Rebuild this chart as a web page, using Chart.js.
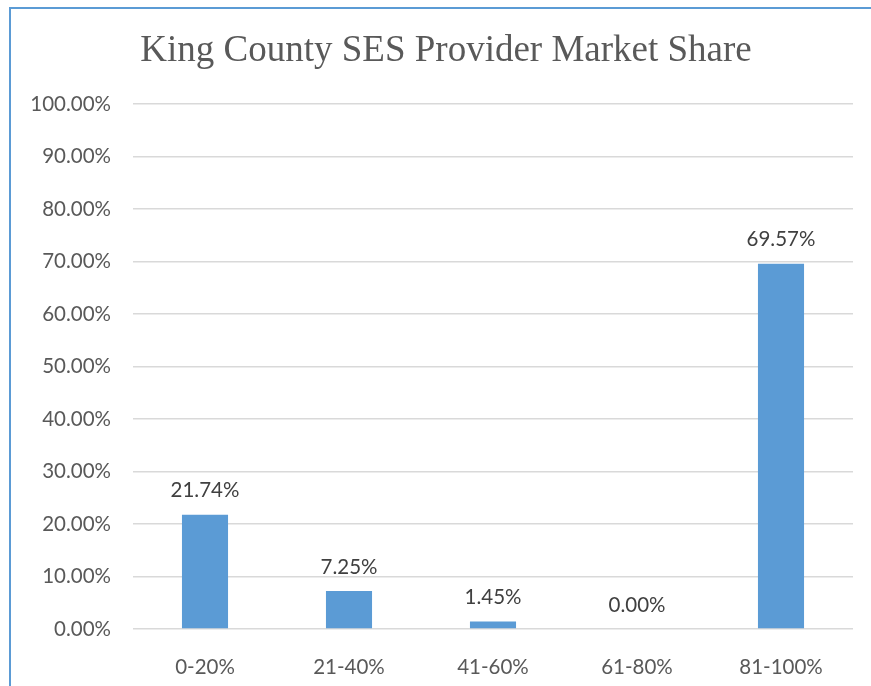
<!DOCTYPE html>
<html>
<head>
<meta charset="utf-8">
<script src="https://cdn.jsdelivr.net/npm/chart.js@4/dist/chart.umd.min.js"></script>
<style>
  html, body { margin: 0; padding: 0; background: #fff; }
  #wrap { position: relative; width: 871px; height: 686px; }
  #frame { position: absolute; left: 9px; top: 7px; right: -2px; bottom: -2px;
    border-left: 2px solid #5b9bd5; border-top: 2px solid #5b9bd5; }
  canvas { position: absolute; left: 0; top: 0; }
</style>
</head>
<body>
<div id="wrap">
  <div id="frame"></div>
  <canvas id="chart" width="871" height="686"></canvas>
</div>
<script>
const chartTitle = 'King County SES Provider Market Share'
const categories = ['0-20%', '21-40%', '41-60%', '61-80%', '81-100%']
const shares = [21.74, 7.25, 1.45, 0.00, 69.57]

const textGrey = '#595959'
const tickFont = { family: 'Lato, "Liberation Sans", sans-serif', size: 20.5 }

const pct = v => Number(v).toFixed(2) + '%'

// bar value labels, drawn just above each bar
const valueLabels = {
  id: 'valueLabels',
  afterDatasetsDraw(chart) {
    const ctx = chart.ctx
    const meta = chart.getDatasetMeta(0)
    ctx.save()
    ctx.fillStyle = '#404040'
    ctx.font = `${tickFont.size}px ${tickFont.family}`
    ctx.textAlign = 'center'
    ctx.textBaseline = 'middle'
    meta.data.forEach((bar, i) => {
      ctx.fillText(pct(shares[i]), bar.x, bar.y - 24)
    })
    ctx.restore()
  }
}

// chart title drawn by hand so the plot area stays where it is
const titleText = {
  id: 'titleText',
  afterDraw(chart) {
    const ctx = chart.ctx
    ctx.save()
    ctx.fillStyle = textGrey
    ctx.font = '37px "Liberation Serif", "Times New Roman", serif'
    ctx.textAlign = 'center'
    ctx.textBaseline = 'middle'
    ctx.fillText(chartTitle, 446, 51)
    ctx.restore()
  }
}

new Chart(document.getElementById('chart').getContext('2d'), {
  type: 'bar',
  data: {
    labels: categories,
    datasets: [{
      label: 'Market Share',
      data: shares,
      backgroundColor: '#5b9bd5',
      categoryPercentage: 1,
      barPercentage: 0.32
    }]
  },
  options: {
    responsive: false,
    animation: false,
    layout: { padding: { top: 104, right: 18, bottom: 0, left: 0 } },
    plugins: {
      legend: { display: false },
      title: { display: false },
      tooltip: { enabled: false }
    },
    scales: {
      x: {
        grid: { display: false },
        border: { display: false },
        ticks: { color: textGrey, font: tickFont, padding: 18 },
        afterFit(scale) { scale.height = 57 }
      },
      y: {
        min: 0,
        max: 100,
        grid: { color: '#d9d9d9', lineWidth: 1.5, drawTicks: false },
        border: { display: false },
        ticks: { stepSize: 10, color: textGrey, font: tickFont, padding: 22, callback: v => pct(v) },
        afterFit(scale) { scale.width = 133 }
      }
    }
  },
  plugins: [valueLabels, titleText]
})
</script>
</body>
</html>
